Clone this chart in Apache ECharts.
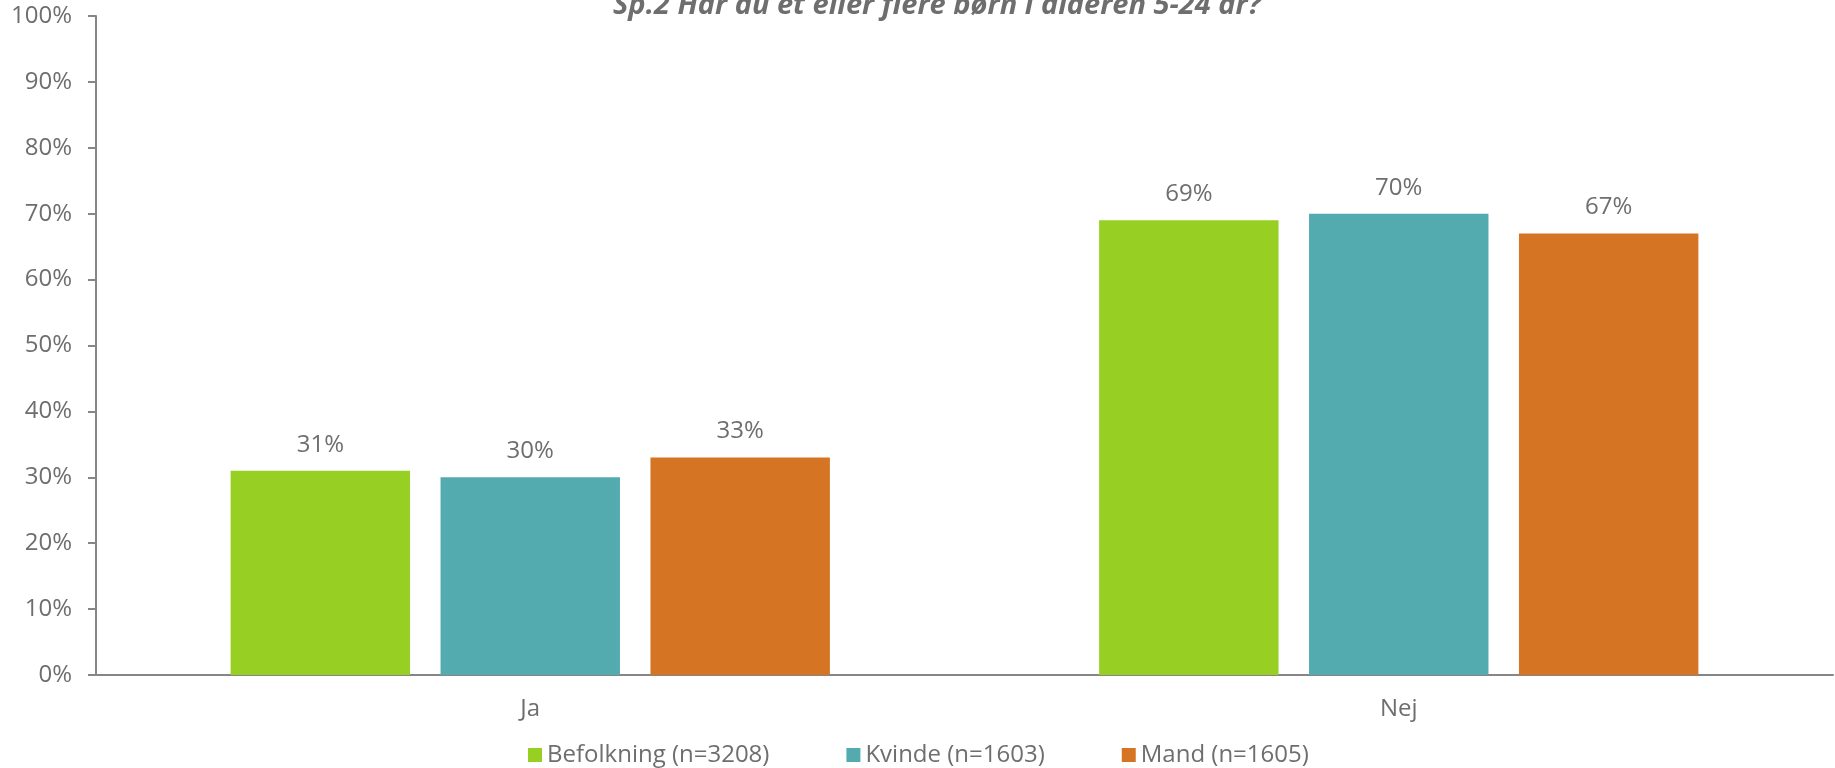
<!DOCTYPE html>
<html>
<head>
<meta charset="utf-8">
<script src="https://cdn.jsdelivr.net/npm/echarts@6/dist/echarts.min.js"></script>
<style>
    html, body { margin: 0; padding: 0; background: #fff; }
    #chart { width: 1835px; height: 768px; }
</style>
</head>
<body>
<div id="chart"></div>
<script>
var categories = ['Ja', 'Nej'];
var seriesNames = ['Befolkning (n=3208)', 'Kvinde (n=1603)', 'Mand (n=1605)'];
var befolkning = [31, 69];
var kvinde = [30, 70];
var mand = [33, 67];
var yTicks = [0, 10, 20, 30, 40, 50, 60, 70, 80, 90, 100];

var colors = ['#97d023', '#53abb0', '#d57524'];
var textColor = '#6e6e6e';
var fontFamily = 'Open Sans';

var chart = echarts.init(document.getElementById('chart'));

function makeSeries(name, values) {
    return {
        name: name,
        type: 'bar',
        data: values,
        barGap: '17%',
        barCategoryGap: '31%',
        label: {
            show: true,
            position: 'top',
            distance: 14,
            formatter: '{c}%',
            color: textColor,
            fontSize: 24,
            fontFamily: fontFamily
        }
    };
}

var option = {
    color: colors,
    animation: false,
    title: {
        text: 'Sp.2 Har du et eller flere børn i alderen 5-24 år?',
        left: 613,
        top: -9,
        padding: 0,
        textStyle: {
            color: textColor,
            fontSize: 29,
            fontWeight: 'bold',
            fontStyle: 'italic',
            fontFamily: fontFamily
        }
    },
    legend: {
        data: seriesNames,
        left: 523,
        top: 738,
        itemWidth: 14,
        itemHeight: 14,
        itemGap: 77,
        icon: 'rect',
        textStyle: { color: textColor, fontSize: 24, fontFamily: fontFamily }
    },
    grid: { left: 96, right: 2, top: 16, bottom: 93 },
    xAxis: {
        type: 'category',
        data: categories,
        axisLine: { lineStyle: { color: '#868686', width: 2 } },
        axisTick: { show: false },
        axisLabel: { color: textColor, fontSize: 24, fontFamily: fontFamily, margin: 22 }
    },
    yAxis: {
        type: 'value',
        min: 0,
        max: 100,
        interval: 10,
        axisLine: { show: true, lineStyle: { color: '#868686', width: 2 } },
        axisTick: { show: true, length: 8, lineStyle: { color: '#868686', width: 2 } },
        splitLine: { show: false },
        axisLabel: {
            color: textColor,
            fontSize: 24,
            fontFamily: fontFamily,
            margin: 24,
            formatter: function (v) { return yTicks.indexOf(v) >= 0 ? v + '%' : ''; }
        }
    },
    series: [
        makeSeries(seriesNames[0], befolkning),
        makeSeries(seriesNames[1], kvinde),
        makeSeries(seriesNames[2], mand)
    ]
};

chart.setOption(option);
</script>
</body>
</html>
